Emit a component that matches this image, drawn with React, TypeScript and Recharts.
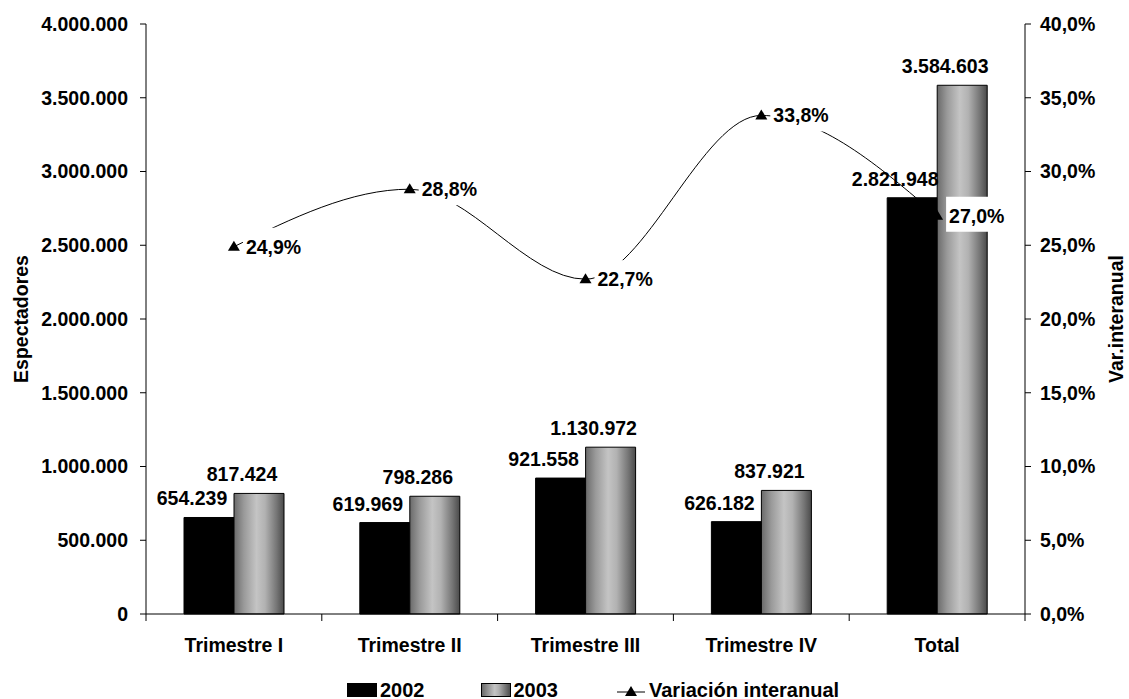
import {
  ComposedChart,
  Bar,
  Line,
  XAxis,
  YAxis,
  Legend,
  LabelList,
} from 'recharts';

const categories = ['Trimestre I', 'Trimestre II', 'Trimestre III', 'Trimestre IV', 'Total'];
const spect2002 = [654239, 619969, 921558, 626182, 2821948];
const spect2003 = [817424, 798286, 1130972, 837921, 3584603];
const variacion = [24.9, 28.8, 22.7, 33.8, 27.0];
const leftTicks = [0, 500000, 1000000, 1500000, 2000000, 2500000, 3000000, 3500000, 4000000];
const rightTicks = [0, 5, 10, 15, 20, 25, 30, 35, 40];

const FONT = '"Liberation Sans", Arial, sans-serif';
const FS = 19.5;
const textStyle = { fill: '#000', fontSize: FS, fontWeight: 'bold', fontFamily: FONT };

const data = categories.map((name, i) => ({
  name,
  y2002: spect2002[i],
  y2003: spect2003[i],
  varia: variacion[i],
}));

const fmtThousands = (v: number) =>
  Math.round(v).toString().replace(/\B(?=(\d{3})+(?!\d))/g, '.');
const fmtPct = (v: number) => `${v.toFixed(1).replace('.', ',')}%`;

function CategoryTick(props: any) {
  const { x, y, payload, index } = props;
  const half = payload?.offset || 87.9;
  const last = index === categories.length - 1;
  return (
    <g>
      <line x1={x - half} y1={y - 8} x2={x - half} y2={y - 1} stroke="#000" />
      {last && <line x1={x + half} y1={y - 8} x2={x + half} y2={y - 1} stroke="#000" />}
      <text x={x} y={y + 30} textAnchor="middle" style={textStyle}>
        {payload.value}
      </text>
    </g>
  );
}

function PctLabel(props: any) {
  const { x, y, value } = props;
  const text = fmtPct(value);
  return (
    <g>
      <rect x={x + 9} y={y - 19} width={58} height={35} fill="#fff" />
      <text x={x + 12} y={y + 7} style={textStyle}>
        {text}
      </text>
    </g>
  );
}

function Triangle(props: any) {
  const { cx, cy } = props;
  if (cx == null || cy == null) return null;
  return <path d={`M${cx},${cy - 6} L${cx + 6},${cy + 4} L${cx - 6},${cy + 4} Z`} fill="#000" />;
}

function LegendContent() {
  const item = { display: 'flex', alignItems: 'center' } as const;
  return (
    <div
      style={{
        height: 30,
        display: 'flex',
        alignItems: 'center',
        fontFamily: FONT,
        fontWeight: 'bold',
        fontSize: 20,
        lineHeight: '20px',
        paddingLeft: 347,
      }}
    >
      <div style={{ ...item, marginRight: 56 }}>
        <span style={{ width: 30, height: 14, background: '#000', marginRight: 3 }} />
        <span>2002</span>
      </div>
      <div style={{ ...item, marginRight: 59 }}>
        <span
          style={{
            width: 28,
            height: 12,
            border: '1px solid #000',
            marginRight: 3,
            background: 'linear-gradient(to right, #6a6a6a, #c4c4c4 45%, #b0b0b0 60%, #4e4e4e)',
          }}
        />
        <span>2003</span>
      </div>
      <div style={item}>
        <svg width={28} height={16} style={{ marginRight: 4 }}>
          <line x1={0} y1={10} x2={28} y2={10} stroke="#000" />
          <path d="M14,4 L20,14 L8,14 Z" fill="#000" />
        </svg>
        <span>Variación interanual</span>
      </div>
    </div>
  );
}

export default function App() {
  return (
    <div style={{ position: 'absolute', left: 0, top: 0, width: 1129, height: 699, background: '#fff' }}>
      <ComposedChart
        width={1129}
        height={699}
        data={data}
        margin={{ top: 24, right: 0, bottom: 0, left: 0 }}
        barGap={0}
      >
        <defs>
          <linearGradient id="grad2003" x1="0" y1="0" x2="1" y2="0">
            <stop offset="0%" stopColor="#6a6a6a" />
            <stop offset="20%" stopColor="#9a9a9a" />
            <stop offset="45%" stopColor="#c4c4c4" />
            <stop offset="62%" stopColor="#b2b2b2" />
            <stop offset="85%" stopColor="#767676" />
            <stop offset="100%" stopColor="#4a4a4a" />
          </linearGradient>
        </defs>
        <XAxis
          dataKey="name"
          height={55}
          axisLine={{ stroke: '#000' }}
          tickLine={false}
          tick={<CategoryTick />}
          interval={0}
        />
        <YAxis
          yAxisId="left"
          width={146}
          domain={[0, 4000000]}
          ticks={leftTicks}
          interval={0}
          tickFormatter={fmtThousands}
          axisLine={{ stroke: '#000' }}
          tickLine={{ stroke: '#000' }}
          tickSize={6}
          tickMargin={12}
          tick={textStyle}
          label={{
            value: 'Espectadores',
            angle: -90,
            position: 'insideLeft',
            dx: 16,
            style: { ...textStyle, textAnchor: 'middle' },
          }}
        />
        <YAxis
          yAxisId="right"
          orientation="right"
          width={104}
          domain={[0, 40]}
          ticks={rightTicks}
          interval={0}
          tickFormatter={fmtPct}
          axisLine={{ stroke: '#000' }}
          tickLine={{ stroke: '#000' }}
          tickSize={6}
          tickMargin={9}
          tick={textStyle}
          label={{
            value: 'Var.interanual',
            angle: -90,
            position: 'insideRight',
            dx: -8,
            style: { ...textStyle, textAnchor: 'middle' },
          }}
        />
        <Legend verticalAlign="bottom" content={<LegendContent />} wrapperStyle={{ bottom: -6 }} />
        <Bar
          yAxisId="left"
          dataKey="y2002"
          name="2002"
          fill="#000"
          stroke="#000"
          barSize={50}
          isAnimationActive={false}
        >
          <LabelList
            dataKey="y2002"
            position="top"
            offset={12}
            dx={-17}
            formatter={(v: any) => fmtThousands(Number(v))}
            style={textStyle}
          />
        </Bar>
        <Bar
          yAxisId="left"
          dataKey="y2003"
          name="2003"
          fill="url(#grad2003)"
          stroke="#000"
          barSize={50}
          isAnimationActive={false}
        >
          <LabelList
            dataKey="y2003"
            position="top"
            offset={12}
            dx={-17}
            formatter={(v: any) => fmtThousands(Number(v))}
            style={textStyle}
          />
        </Bar>
        <Line
          yAxisId="right"
          dataKey="varia"
          name="Variación interanual"
          type="monotone"
          stroke="#000"
          strokeWidth={1}
          dot={<Triangle />}
          activeDot={false}
          isAnimationActive={false}
        >
          <LabelList dataKey="varia" content={<PctLabel />} />
        </Line>
      </ComposedChart>
    </div>
  );
}
